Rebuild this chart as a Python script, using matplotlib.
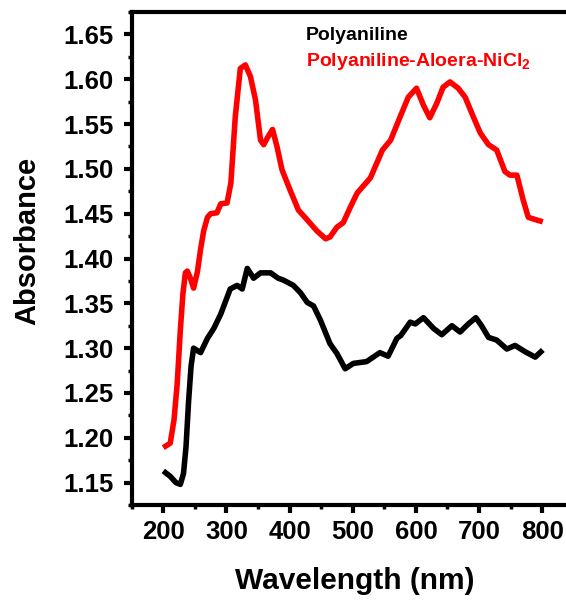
import numpy as np
import matplotlib.pyplot as plt

plt.rcParams['font.family'] = ['Liberation Sans', 'DejaVu Sans']
plt.rcParams['font.weight'] = 'bold'
plt.rcParams['mathtext.fontset'] = 'custom'
plt.rcParams['mathtext.bf'] = 'Liberation Sans:bold'
plt.rcParams['mathtext.rm'] = 'Liberation Sans:bold'

# Polyaniline
wl_pani = [200, 211, 220, 227, 232, 236, 240, 244, 248, 259, 270, 280, 291, 306, 317,
           325, 333, 343, 354, 370, 382, 390, 406, 417, 428, 438, 449, 464, 475, 488,
           501, 522, 543, 556, 570, 576, 591, 599, 612, 628, 641, 657, 670, 683, 695,
           704, 715, 728, 744, 757, 773, 789, 801]
abs_pani = [1.163, 1.157, 1.150, 1.148, 1.160, 1.190, 1.240, 1.280, 1.300, 1.295, 1.311,
            1.322, 1.338, 1.366, 1.370, 1.366, 1.389, 1.378, 1.384, 1.384, 1.378, 1.376,
            1.370, 1.362, 1.351, 1.347, 1.331, 1.305, 1.294, 1.277, 1.283, 1.285, 1.295,
            1.291, 1.311, 1.314, 1.329, 1.327, 1.334, 1.322, 1.315, 1.325, 1.318, 1.327,
            1.334, 1.325, 1.312, 1.309, 1.299, 1.303, 1.296, 1.290, 1.298]

# Polyaniline-Aloera-NiCl2
wl_comp = [200, 211, 217, 222, 227, 231, 235, 238, 243, 248, 254, 259, 264, 270, 275,
           285, 291, 301, 307, 314, 322, 330, 338, 346, 354, 359, 366, 373, 380, 388,
           401, 414, 428, 443, 457, 464, 475, 485, 496, 507, 528, 547, 560, 575, 588,
           601, 612, 622, 633, 643, 654, 667, 678, 691, 702, 715, 728, 741, 749, 760,
           770, 778, 791, 801]
abs_comp = [1.189, 1.194, 1.220, 1.260, 1.320, 1.360, 1.384, 1.386, 1.378, 1.367, 1.385,
            1.410, 1.431, 1.446, 1.450, 1.451, 1.461, 1.462, 1.484, 1.558, 1.612, 1.616,
            1.603, 1.577, 1.532, 1.527, 1.536, 1.544, 1.525, 1.499, 1.476, 1.454, 1.443,
            1.431, 1.422, 1.424, 1.435, 1.440, 1.457, 1.473, 1.490, 1.521, 1.532, 1.558,
            1.580, 1.590, 1.571, 1.557, 1.573, 1.591, 1.597, 1.590, 1.580, 1.558, 1.540,
            1.527, 1.521, 1.497, 1.493, 1.493, 1.465, 1.446, 1.443, 1.441]

fig = plt.figure(figsize=(5.66, 6.0), dpi=100)
ax = fig.add_axes([0.2327, 0.1583, 0.781, 0.8217])

ax.plot(wl_pani, abs_pani, color='black', lw=4, solid_joinstyle='round', solid_capstyle='butt')
ax.plot(wl_comp, abs_comp, color='#ff0000', lw=4, solid_joinstyle='round', solid_capstyle='butt')

ax.set_xlim(150, 850)
ax.set_ylim(1.125, 1.675)
ax.set_xticks(np.arange(200, 801, 100))
ax.set_xticks(np.arange(150, 851, 50), minor=True)
ax.set_yticks(np.arange(1.15, 1.651, 0.05))
ax.set_yticks(np.arange(1.125, 1.676, 0.025), minor=True)
ax.set_yticklabels(['%.2f' % v for v in np.arange(1.15, 1.651, 0.05)])

for s in ax.spines.values():
    s.set_linewidth(3)
ax.tick_params(which='major', direction='out', length=6, width=3, labelsize=18.5)
ax.tick_params(axis='y', which='major', pad=7)
ax.tick_params(axis='x', which='major', pad=5)
ax.tick_params(which='minor', direction='out', length=3, width=2.5)
ax.tick_params(top=False, right=False, which='both')
for lab in ax.get_xticklabels() + ax.get_yticklabels():
    lab.set_fontweight('bold')

ax.set_xlabel('Wavelength (nm)', fontsize=21.5, fontweight='bold')
ax.set_ylabel('Absorbance', fontsize=21, fontweight='bold')
ax.xaxis.set_label_coords((354.5 - 131.7) / 442.0, -0.126)
ax.yaxis.set_label_coords(-0.205, 0.535)

fig.text(306 / 566, 1 - 35 / 600, 'Polyaniline', color='black', fontsize=14,
         fontweight='bold', va='center', ha='left')
fig.text(306 / 566, 1 - 61 / 600, r'Polyaniline-Aloera-NiCl$_\mathbf{2}$', color='#ff0000',
         fontsize=14, fontweight='bold', va='center', ha='left')

fig.savefig('out.png', dpi=100)
